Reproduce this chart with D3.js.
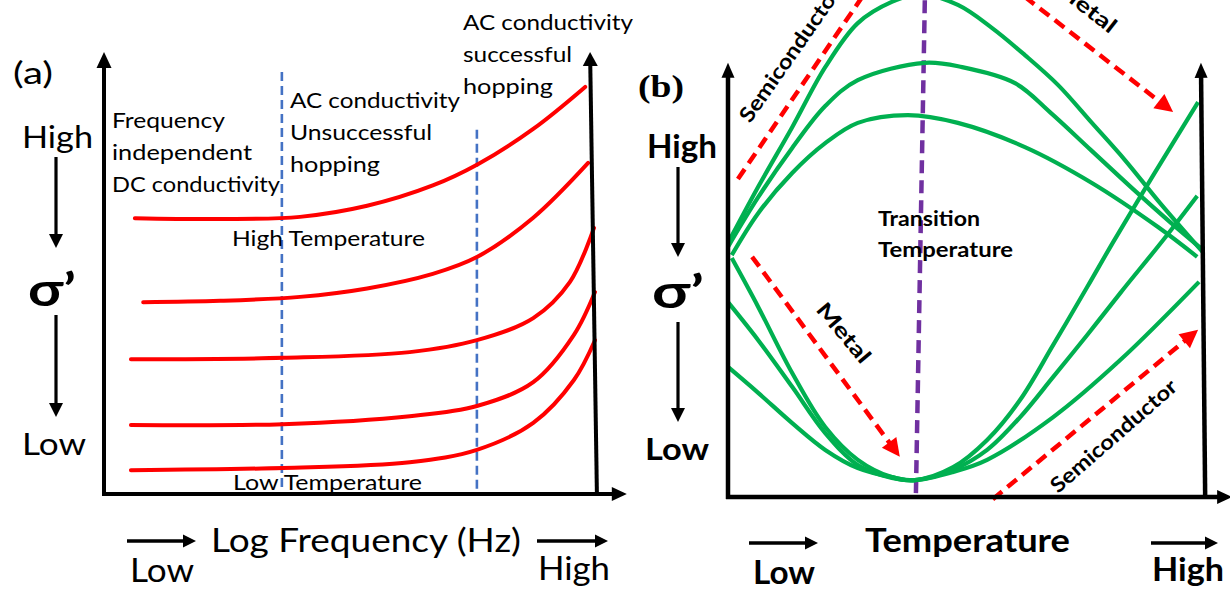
<!DOCTYPE html>
<html><head><meta charset="utf-8">
<script src="https://cdn.jsdelivr.net/npm/d3@7"></script>
<style>html,body{margin:0;padding:0;background:#fff}svg{display:block}</style>
</head><body>
<svg id="c" width="1230" height="590"></svg>
<script>
// ================= DATA (schematic units, 0–100 on each axis) =================
// Panel (a): σ' vs log frequency, five temperatures (top = high T, bottom = low T)
const seriesA = ["T5 (high)", "T4", "T3", "T2", "T1 (low)"];
const curveA1 = [[6.3,62.4],[23.7,62.2],[40.0,62.7],[53.7,65.2],[67.1,69.8],[76.3,74.6],[87.6,82.6],[98.2,92.1]];
const curveA2 = [[8.0,43.4],[23.7,43.7],[40.0,44.6],[53.7,46.5],[67.1,49.8],[76.1,53.6],[87.6,62.5],[98.8,74.9]];
const curveA3 = [[5.5,30.5],[36.5,30.8],[62.4,32.1],[76.1,34.8],[87.6,39.8],[95.1,48.0],[100.0,60.2]];
const curveA4 = [[5.5,15.6],[36.5,15.8],[62.4,17.6],[76.1,19.9],[87.6,25.3],[95.9,36.0],[100.2,45.7]];
const curveA5 = [[5.5,5.4],[36.5,5.9],[62.4,7.2],[76.1,10.0],[87.6,16.1],[95.9,25.8],[100.2,34.8]];
const regionBoundsA = [36.3, 76.1];          // log-frequency of the two region dividers
const regionTopsA   = [95.5, 82.4];
const regionTextA1 = ["Frequency","independent","DC conductivity"];
const regionTextA2 = ["AC conductivity","Unsuccessful","hopping"];
const regionTextA3 = ["AC conductivity","successful","hopping"];
const tempTextA = ["High Temperature","Low Temperature"];

// Panel (b): σ' vs temperature
const seriesB = ["P1","P2","P3","V1","V2","V3"];
const curveP1 = [[0,58.8],[6.4,71.8],[13.6,85.6],[20.6,99.5],[27.5,109.7],[34.7,114.6],[40.7,116.4],[48.7,113.9],[55.9,108.6],[62.9,102.3],[69.9,95.4],[77.1,86.6],[84.1,78.0],[91.5,68.1],[100.6,56.7]];
const curveP2 = [[0,57.9],[6.4,69.4],[13.6,80.8],[20.6,90.5],[27.5,96.5],[41.7,100.5],[49.6,99.5],[60.8,95.8],[68.2,89.1],[76.9,80.3],[85.6,71.5],[93.6,63.7],[100.6,57.2]];
const curveP3 = [[0.8,56.0],[6.4,65.7],[13.6,75.0],[20.6,81.9],[27.5,86.6],[38.1,88.4],[48.7,86.6],[62.9,81.0],[77.1,72.7],[91.1,62.5],[99.4,55.6]];
const curveV1 = [[0.8,55.3],[6.4,44.0],[13.6,28.7],[20.6,16.2],[27.5,8.6],[34.7,4.6],[39.6,3.9],[47.7,6.9],[54.9,13.2],[61.9,22.5],[68.9,35.2],[76.1,48.6],[81.6,59.0],[90.5,75.2],[99.6,91.4]];
const curveV2 = [[0,45.1],[6.4,36.3],[13.6,25.5],[20.6,14.8],[27.5,7.4],[34.7,4.4],[39.6,3.9],[47.7,6.3],[54.9,10.9],[61.9,18.5],[68.9,27.8],[76.1,37.5],[83.1,47.2],[92.2,59.5],[99.4,69.7]];
const curveV3 = [[0,30.1],[6.4,24.1],[13.6,17.1],[20.6,10.9],[27.5,6.7],[34.7,4.6],[39.6,3.9],[47.7,5.8],[54.9,8.6],[68.9,18.5],[83.1,31.7],[99.8,49.8]];
const transitionLine = [[41.7,115],[39.8,0]];
const trendArrows = [
  {name:"Semiconductor", from:[2.1,73.6], to:[32.2,121.8]},
  {name:"Metal",         from:[59.7,118.5], to:[94.3,89.1]},
  {name:"Metal",         from:[5.1,55.6], to:[36.4,9.3]},
  {name:"Semiconductor", from:[56.1,-0.5], to:[99.6,38.7]}
];
const transitionText = ["Transition","Temperature"];
const axisTextA = ["Log Frequency (Hz)","Low","High"];
const axisTextB = ["Temperature","Low","High"];
const yTextLevels = ["High","σ’","Low"];

// ================= LAYOUT =================
const svg = d3.select("#c");
const FONT = "Lato, 'Open Sans', sans-serif";
const RED="#FF0000", GREEN="#00B050", BLUE="#4472C4", PURPLE="#7030A0";

const xa = d3.scaleLinear().domain([0,100]).range([104,594]);
const ya = d3.scaleLinear().domain([0,100]).range([494,52]);
const xb = d3.scaleLinear().domain([0,100]).range([728,1200]);
const yb = d3.scaleLinear().domain([0,100]).range([497,65]);

function arrow(g,x1,y1,x2,y2,o={}){
  const color=o.color||"#000", width=o.width||4, head=o.head||14, headW=o.headW||14;
  const dx=x2-x1, dy=y2-y1, L=Math.hypot(dx,dy), ux=dx/L, uy=dy/L;
  const bx=x2-ux*head, by=y2-uy*head;
  g.append("line").attr("x1",x1).attr("y1",y1).attr("x2",bx+ux).attr("y2",by+uy)
    .attr("stroke",color).attr("stroke-width",width)
    .attr("stroke-dasharray",o.dash||null);
  const px=-uy, py=ux;
  g.append("path").attr("d",`M${x2},${y2}L${bx+px*headW/2},${by+py*headW/2}L${bx-px*headW/2},${by-py*headW/2}Z`)
    .attr("fill",color);
}
function label(g,text,x,y,size,w,o={}){
  const t=g.append("text").attr("transform",`translate(${x},${y}) rotate(${o.rot||0})`)
    .attr("font-family",o.family||FONT).attr("font-size",size)
    .attr("font-weight",o.weight||400).attr("fill",o.fill||"#000")
    .attr("text-anchor",o.anchor||"start").text(text);
  if(w) t.attr("textLength",w).attr("lengthAdjust","spacingAndGlyphs");
  return t;
}

// ---------------- Panel (a) ----------------
const ga = svg.append("g");
const lineA = d3.line().x(d=>xa(d[0])).y(d=>ya(d[1])).curve(d3.curveCatmullRom.alpha(0.5));

regionBoundsA.forEach((b,i)=>{
  ga.append("line").attr("x1",xa(b)).attr("x2",xa(b)).attr("y1",ya(regionTopsA[i])).attr("y2",ya(0))
    .attr("stroke",BLUE).attr("stroke-width",2.6).attr("stroke-dasharray","9,5");
});
[curveA1,curveA2,curveA3,curveA4,curveA5].forEach((c,i)=>{
  ga.append("path").datum(c).attr("d",lineA).attr("fill","none")
    .attr("stroke",RED).attr("stroke-width",4).attr("stroke-linecap","round")
    .attr("class","series-"+i);
});
arrow(ga, xa(0), ya(0)+2, xa(0), ya(100), {width:4, head:16, headW:15});
arrow(ga, xa(0)-2, ya(0), xa(106.7), ya(0), {width:4, head:15, headW:14});
arrow(ga, xa(100.6), ya(0)+2, xa(99.2), ya(100), {width:4, head:14, headW:15});

label(ga,"(a)",13,84,31,40);
label(ga,yTextLevels[0],22,148,30,71);
arrow(ga,56,157,56,248,{width:3.2,head:14,headW:14});
label(ga,yTextLevels[1],28,306,46,48,{weight:700});
arrow(ga,56,315,56,417,{width:3.2,head:14,headW:14});
label(ga,yTextLevels[2],22,455,31,64);

const rA1=[113,140,168], rA2=[170,142,90], rA3=[170,109,90];
regionTextA1.forEach((t,i)=>label(ga,t,112,128+i*32,21,rA1[i]));
regionTextA2.forEach((t,i)=>label(ga,t,290,108+i*32,21,rA2[i]));
regionTextA3.forEach((t,i)=>label(ga,t,463,30+i*32,21,rA3[i]));
label(ga,tempTextA[0],232,246,21,193);
label(ga,tempTextA[1],233,490,21,189);

arrow(ga,127,541,196,541,{width:3.5,head:13,headW:13});
label(ga,axisTextA[0],211,552,33,310);
arrow(ga,537,541,608,541,{width:3.5,head:13,headW:13});
label(ga,axisTextA[1],130,582,32,64);
label(ga,axisTextA[2],538,580,32,72);

// ---------------- Panel (b) ----------------
const gb = svg.append("g");
const lineB = d3.line().x(d=>xb(d[0])).y(d=>yb(d[1])).curve(d3.curveCatmullRom.alpha(0.5));

gb.append("line").attr("x1",xb(transitionLine[0][0])).attr("y1",yb(transitionLine[0][1]))
  .attr("x2",xb(transitionLine[1][0])).attr("y2",yb(transitionLine[1][1]))
  .attr("stroke",PURPLE).attr("stroke-width",4.5).attr("stroke-dasharray","13,7");

[curveP1,curveP2,curveP3,curveV1,curveV2,curveV3].forEach((c,i)=>{
  gb.append("path").datum(c).attr("d",lineB).attr("fill","none")
    .attr("stroke",GREEN).attr("stroke-width",4.2).attr("class","series-"+seriesB[i]);
});

trendArrows.forEach(a=>{
  arrow(gb, xb(a.from[0]), yb(a.from[1]), xb(a.to[0]), yb(a.to[1]),
    {color:RED, width:4.5, head:18, headW:18, dash:"12,7"});
});
label(gb,trendArrows[0].name,750,124,21,160,{rot:-55,weight:700});
label(gb,trendArrows[1].name,1053,-10,21,72,{rot:38,weight:700});
label(gb,trendArrows[2].name,815,310,21,72,{rot:50,weight:700});
label(gb,trendArrows[3].name,1058,494,21,160,{rot:-41,weight:700});

arrow(gb, xb(0), yb(0)+2, xb(0), yb(100.5), {width:4.5, head:15, headW:13});
arrow(gb, xb(0)-2, yb(0), xb(106.8), yb(0), {width:4.5, head:15, headW:14});
arrow(gb, xb(101.1), yb(0)+2, xb(100.2), yb(100.5), {width:4.5, head:15, headW:13});

label(gb,transitionText[0],878,226,21,102,{weight:700});
label(gb,transitionText[1],878,257,21,135,{weight:700});

label(gb,"(b)",638,97,32,46,{family:"'Liberation Serif', 'DejaVu Serif', serif",weight:700});
label(gb,yTextLevels[0],647,158,32,70,{weight:700});
arrow(gb,678,167,678,257,{width:3.2,head:14,headW:14});
label(gb,yTextLevels[1],652,308,46,52,{weight:700});
arrow(gb,678,322,678,422,{width:3.2,head:14,headW:14});
label(gb,yTextLevels[2],645,460,31,64,{weight:700});

arrow(gb,749,543,818,543,{width:3.5,head:13,headW:13});
label(gb,axisTextB[0],865,552,33,205,{weight:700});
arrow(gb,1151,543,1218,543,{width:3.5,head:13,headW:13});
label(gb,axisTextB[1],753,584,32,62,{weight:700});
label(gb,axisTextB[2],1152,581,32,72,{weight:700});
</script>
</body></html>
